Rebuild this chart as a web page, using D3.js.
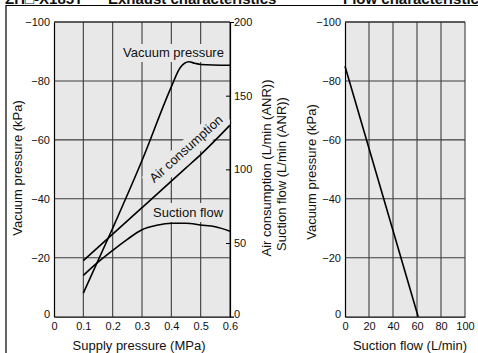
<!DOCTYPE html>
<html>
<head>
<meta charset="utf-8">
<script src="https://cdn.jsdelivr.net/npm/d3@7/dist/d3.min.js"></script>
<style>
  html, body { margin: 0; padding: 0; background: #fff; }
  svg { display: block; }
  .tick text { font-family: "Liberation Sans Narrow", "Liberation Sans", Arial, sans-serif; font-size: 11px; fill: #111; }
  .lbl { font-family: "Liberation Sans", Arial, sans-serif; font-size: 13px; fill: #111; }
  .ttl { font-family: "Liberation Sans", Arial, sans-serif; font-size: 15px; font-weight: bold; fill: #111; }
</style>
</head>
<body>
<svg id="chart" width="478" height="353"></svg>
<script>
// ---- data ----
const supplyPressure = [0.1, 0.2, 0.3, 0.4, 0.43, 0.46, 0.48, 0.5, 0.6];
const vacuumPressure = [-8, -30, -53, -78, -84.5, -86.5, -86, -85.6, -85.3];

const airX = [0.1, 0.2, 0.3, 0.4, 0.45, 0.5, 0.6];
const airConsumption = [38, 56, 74, 92, 101, 110, 130];

const suctionX = [0.1, 0.15, 0.2, 0.25, 0.3, 0.35, 0.4, 0.45, 0.5, 0.55, 0.6];
const suctionFlow = [28, 37, 45, 52.5, 59, 62, 63.4, 63.4, 62.2, 61, 58];

const flowX = [0, 61];
const flowVacuum = [-85, 0];

const xTicksLeft = [0, 0.1, 0.2, 0.3, 0.4, 0.5, 0.6];
const yTicksVac = [0, -20, -40, -60, -80, -100];
const yTicksFlow = [0, 50, 100, 150, 200];
const xTicksRight = [0, 20, 40, 60, 80, 100];

const titleLeftA = "ZH□-X185T";
const titleLeftB = "Exhaust characteristics";
const titleRight = "Flow characteristics";

// ---- drawing ----
const svg = d3.select("#chart");
const bg = "#e8e8e8", gridC = "#3c3c3c";
const fmt = d => d === 0 ? "0" : d3.format("")(d);

// frame + title
svg.append("path").attr("d", "M6,353V5.5H478").attr("fill", "none").attr("stroke", "#000").attr("stroke-width", 1.2);
svg.append("text").attr("class", "ttl").attr("x", 5).attr("y", 4).text(titleLeftA);
svg.append("text").attr("class", "ttl").attr("x", 108).attr("y", 4).text(titleLeftB);
svg.append("text").attr("class", "ttl").attr("x", 343).attr("y", 4).text(titleRight);

const yTop = 22, yBot = 316.7;
// Left chart scales
const xL = d3.scaleLinear([0, 0.6], [54, 230]);
const yL = d3.scaleLinear([0, -100], [yBot, yTop]);
const yR = d3.scaleLinear([0, 200], [yBot, yTop]);
// Right chart scales
const xR = d3.scaleLinear([0, 100], [345, 465]);

function panel(xs, xTicks) {
  const g = svg.append("g");
  g.append("rect").attr("x", xs.range()[0]).attr("y", yTop)
    .attr("width", xs.range()[1] - xs.range()[0]).attr("height", yBot - yTop).attr("fill", bg);
  g.selectAll(".vg").data(xTicks.slice(1)).join("line")
    .attr("x1", d => xs(d)).attr("x2", d => xs(d)).attr("y1", yTop).attr("y2", yBot)
    .attr("stroke", gridC).attr("stroke-width", 1.1);
  g.selectAll(".hg").data(yTicksVac.slice(1)).join("line")
    .attr("x1", xs.range()[0]).attr("x2", xs.range()[1]).attr("y1", d => yL(d)).attr("y2", d => yL(d))
    .attr("stroke", gridC).attr("stroke-width", 1.1);
  return g;
}

// ---------- left chart ----------
const gl = panel(xL, xTicksLeft);

// label backgrounds (hide grid behind labels)
gl.append("rect").attr("x", 120).attr("y", 44).attr("width", 108).attr("height", 18).attr("fill", bg);
gl.append("rect").attr("x", 150).attr("y", 203).attr("width", 76).attr("height", 19).attr("fill", bg);
gl.append("rect").attr("x", -52).attr("y", -13).attr("width", 104).attr("height", 20).attr("fill", bg)
  .attr("transform", "translate(189,152) rotate(-42)");

const lineFn = d3.line().curve(d3.curveMonotoneX);
gl.append("path")
  .attr("d", lineFn(supplyPressure.map((x, i) => [xL(x), yL(vacuumPressure[i])])))
  .attr("fill", "none").attr("stroke", "#000").attr("stroke-width", 1.6);
gl.append("path")
  .attr("d", lineFn(airX.map((x, i) => [xL(x), yR(airConsumption[i])])))
  .attr("fill", "none").attr("stroke", "#000").attr("stroke-width", 1.6);
gl.append("path")
  .attr("d", lineFn(suctionX.map((x, i) => [xL(x), yR(suctionFlow[i])])))
  .attr("fill", "none").attr("stroke", "#000").attr("stroke-width", 1.6);

gl.append("text").attr("class", "lbl").attr("x", 123).attr("y", 57).text("Vacuum pressure");
gl.append("text").attr("class", "lbl").attr("x", 153).attr("y", 217).text("Suction flow");
gl.append("text").attr("class", "lbl").attr("text-anchor", "middle")
  .attr("transform", "translate(189,152) rotate(-42)").text("Air consumption");

// axes left chart
const axL = svg.append("g").attr("transform", `translate(${xL(0)},0)`)
  .call(d3.axisLeft(yL).tickValues(yTicksVac).tickSize(0).tickPadding(4).tickFormat(fmt));
axL.select(".domain").attr("stroke", "#000").attr("stroke-width", 1.2);
axL.selectAll(".tick").filter(d => d === 0).select("text").attr("dy", "0.1em");

const axB = svg.append("g").attr("transform", `translate(0,${yBot})`)
  .call(d3.axisBottom(xL).tickValues(xTicksLeft).tickSize(0).tickPadding(6).tickFormat(d => d === 0 ? "0" : d3.format(".1f")(d)));
axB.select(".domain").attr("stroke", "#000").attr("stroke-width", 1.2);

const axR = svg.append("g").attr("transform", `translate(${xL(0.6)},0)`)
  .call(d3.axisLeft(yR).tickValues(yTicksFlow).tickSize(-4).tickPadding(4).tickFormat(fmt));
axR.select(".domain").attr("stroke", "#000").attr("stroke-width", 1.2);
axR.selectAll(".tick line").attr("stroke", "#000").attr("x1", -4).attr("x2", 0)
  .attr("display", d => (d === 0 || d === 200) ? "none" : null);
axR.selectAll(".tick text").attr("text-anchor", "start").attr("x", 4);
axR.selectAll(".tick").filter(d => d === 0).select("text").attr("dy", "0.1em");
svg.append("line").attr("x1", xL(0)).attr("x2", xL(0.6)).attr("y1", yTop).attr("y2", yTop).attr("stroke", "#222").attr("stroke-width", 1.1);

// titles left chart
svg.append("text").attr("class", "lbl").attr("text-anchor", "middle").attr("x", 139).attr("y", 350).text("Supply pressure (MPa)");
svg.append("text").attr("class", "lbl").attr("text-anchor", "middle")
  .attr("transform", "translate(22,168) rotate(-90)").text("Vacuum pressure (kPa)");
svg.append("text").attr("class", "lbl").attr("text-anchor", "middle")
  .attr("transform", "translate(271,168) rotate(-90)").text("Air consumption (L/min (ANR))");
svg.append("text").attr("class", "lbl").attr("text-anchor", "middle")
  .attr("transform", "translate(286,174) rotate(-90)").text("Suction flow (L/min (ANR))");

// ---------- right chart ----------
const gr = panel(xR, xTicksRight);
gr.append("path")
  .attr("d", d3.line()(flowX.map((x, i) => [xR(x), yL(flowVacuum[i])])))
  .attr("fill", "none").attr("stroke", "#000").attr("stroke-width", 1.6);
svg.append("line").attr("x1", xR(0)).attr("x2", xR(100)).attr("y1", yTop).attr("y2", yTop).attr("stroke", "#222").attr("stroke-width", 1.1);

const axL2 = svg.append("g").attr("transform", `translate(${xR(0)},0)`)
  .call(d3.axisLeft(yL).tickValues(yTicksVac).tickSize(0).tickPadding(4).tickFormat(fmt));
axL2.select(".domain").attr("stroke", "#000").attr("stroke-width", 1.2);
axL2.selectAll(".tick").filter(d => d === 0).select("text").attr("dy", "0.1em");
const axB2 = svg.append("g").attr("transform", `translate(0,${yBot})`)
  .call(d3.axisBottom(xR).tickValues(xTicksRight).tickSize(0).tickPadding(6).tickFormat(fmt));
axB2.select(".domain").attr("stroke", "#000").attr("stroke-width", 1.2);

svg.append("text").attr("class", "lbl").attr("text-anchor", "middle").attr("x", 410).attr("y", 350).text("Suction flow (L/min)");
svg.append("text").attr("class", "lbl").attr("text-anchor", "middle")
  .attr("transform", "translate(316,172) rotate(-90)").text("Vacuum pressure (kPa)");
</script>
</body>
</html>
